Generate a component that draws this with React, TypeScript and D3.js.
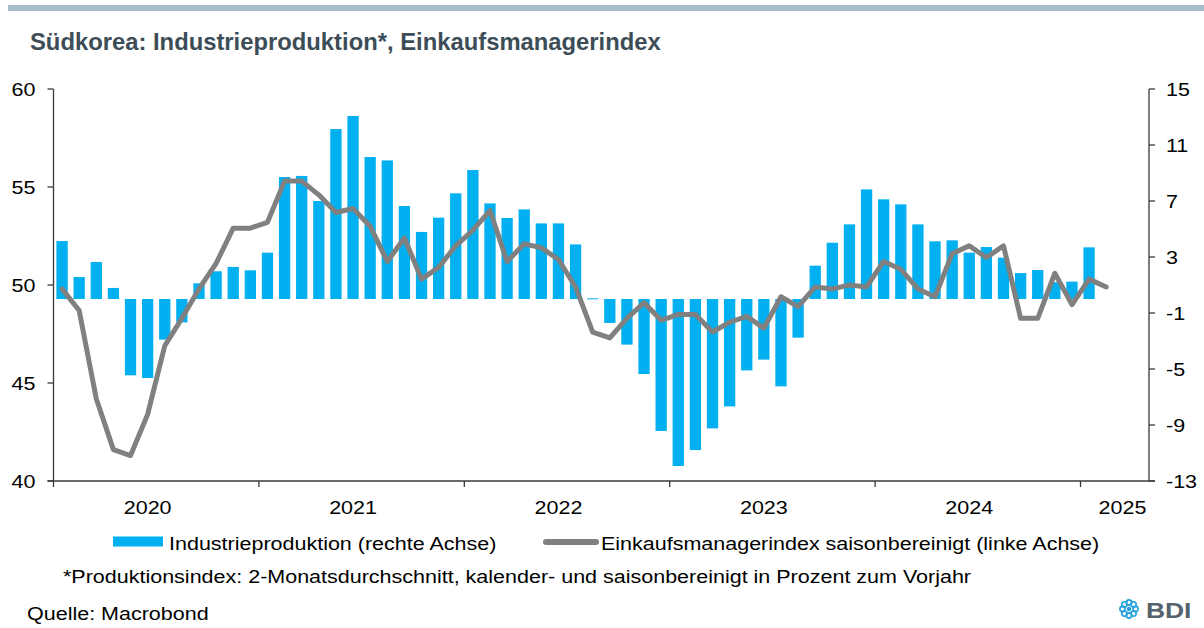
import React from "react";
import * as d3 from "d3";

// ---- Data (monthly, starting January 2020) ----
const startYear = 2020;
const monthsInDomain = 64; // Jan 2020 .. Apr 2025

// Industrieproduktion, % yoy (right axis), Jan 2020 .. Jan 2025
const production2020 = [4.14, 1.57, 2.64, 0.79, -5.45, -5.64, -2.9, -1.67, 1.12, 1.98, 2.29, 2.05];
const production2021 = [3.31, 8.71, 8.79, 7.0, 12.14, 13.07, 10.14, 9.9, 6.64, 4.79, 5.81, 7.55];
const production2022 = [9.21, 6.83, 5.79, 6.4, 5.4, 5.4, 3.9, 0.05, -1.71, -3.26, -5.36, -9.43];
const production2023 = [-11.93, -10.79, -9.24, -7.67, -5.1, -4.33, -6.24, -2.76, 2.38, 4.02, 5.33, 7.83];
const production2024 = [7.12, 6.76, 5.33, 4.12, 4.19, 3.31, 3.71, 2.95, 1.85, 2.07, 1.2, 1.24];
const production2025 = [3.69];

// Einkaufsmanagerindex saisonbereinigt (left axis), Jan 2020 .. Feb 2025
const pmi2020 = [49.8, 48.7, 44.2, 41.6, 41.3, 43.4, 46.9, 48.3, 49.8, 51.1, 52.9, 52.9];
const pmi2021 = [53.2, 55.3, 55.3, 54.6, 53.7, 53.9, 53.0, 51.2, 52.4, 50.3, 50.9, 52.0];
const pmi2022 = [52.8, 53.8, 51.2, 52.1, 51.9, 51.3, 49.9, 47.6, 47.3, 48.3, 49.1, 48.2];
const pmi2023 = [48.5, 48.5, 47.6, 48.1, 48.4, 47.8, 49.4, 48.9, 49.9, 49.8, 50.0, 49.9];
const pmi2024 = [51.2, 50.8, 49.8, 49.4, 51.6, 52.0, 51.4, 52.0, 48.3, 48.3, 50.6, 49.0];
const pmi2025 = [50.3, 49.9];

const production = [
  ...production2020, ...production2021, ...production2022,
  ...production2023, ...production2024, ...production2025,
];
const pmi = [...pmi2020, ...pmi2021, ...pmi2022, ...pmi2023, ...pmi2024, ...pmi2025];

const yearLabels = ["2020", "2021", "2022", "2023", "2024", "2025"];
const leftTicks = [40, 45, 50, 55, 60];
const rightTicks = [-13, -9, -5, -1, 3, 7, 11, 15];

const title = "Südkorea: Industrieproduktion*, Einkaufsmanagerindex";
const legendBars = "Industrieproduktion (rechte Achse)";
const legendLine = "Einkaufsmanagerindex saisonbereinigt (linke Achse)";
const footnote = "*Produktionsindex: 2-Monatsdurchschnitt, kalender- und saisonbereinigt in Prozent zum Vorjahr";
const source = "Quelle: Macrobond";

// ---- Styles ----
const FONT = "'Liberation Sans', Arial, Helvetica, sans-serif";
const SX = 1.15;
const BAR = "#00B0F0";
const LINE = "#808080";
const AXIS = "#3a3a3a";

function T(props: {
  x: number; y: number; anchor?: string; size?: number; weight?: string | number;
  fill?: string; sx?: number; children: React.ReactNode;
}) {
  const { x, y, anchor = "start", size = 18.7, weight = "normal", fill = "#000", sx = SX, children } = props;
  return (
    <text
      transform={`translate(${x},${y}) scale(${sx},1)`}
      textAnchor={anchor}
      fontSize={size}
      fontWeight={weight}
      fill={fill}
      fontFamily={FONT}
    >
      {children}
    </text>
  );
}

export default function App() {
  const W = 1204, H = 628;
  const left = 53.5, right = 1149, top = 89, bottom = 481;

  const x = d3.scaleLinear().domain([0, monthsInDomain]).range([left, right]);
  const yL = d3.scaleLinear().domain([40, 60]).range([bottom, top]);
  const yR = d3.scaleLinear().domain([-13, 15]).range([bottom, top]);

  const step = x(1) - x(0);
  const barW = step * 0.66;

  const linePath = d3
    .line<number>()
    .x((_, i) => x(i + 0.5))
    .y((d) => yL(d))(pmi) as string;

  const yearStarts = yearLabels.map((_, i) => i * 12);

  return (
    <svg width={W} height={H} style={{ display: "block", position: "absolute", left: 0, top: 0 }}>
      <rect x={0} y={0} width={W} height={H} fill="#fff" />
      {/* top band */}
      <rect x={8} y={5} width={W - 8} height={6} fill="#abbdc8" />
      {/* title */}
      <T x={30} y={50} size={23.8} weight="bold" fill="#3d4d58" sx={1}>{title}</T>

      {/* bars */}
      <g>
        {production.map((v, i) => {
          const y0 = yR(0);
          const y1 = yR(v);
          return (
            <rect
              key={i}
              x={x(i + 0.5) - barW / 2}
              y={Math.min(y0, y1)}
              width={barW}
              height={Math.max(1, Math.abs(y1 - y0))}
              fill={BAR}
            />
          );
        })}
      </g>

      {/* line */}
      <path d={linePath} fill="none" stroke={LINE} strokeWidth={5} strokeLinejoin="round" strokeLinecap="round" />

      {/* axes */}
      <g stroke={AXIS} strokeWidth={1.3} fill="none">
        <line x1={left} y1={top} x2={left} y2={bottom} />
        <line x1={right} y1={top} x2={right} y2={bottom} />
        <line x1={left - 6} y1={bottom} x2={right + 6} y2={bottom} />
        {leftTicks.map((t) => (
          <line key={"lt" + t} x1={left - 6} x2={left} y1={yL(t)} y2={yL(t)} />
        ))}
        {rightTicks.map((t) => (
          <line key={"rt" + t} x1={right} x2={right + 6} y1={yR(t)} y2={yR(t)} />
        ))}
        {yearStarts.map((m) => (
          <line key={"xt" + m} x1={x(m)} x2={x(m)} y1={bottom} y2={bottom + 6} />
        ))}
      </g>

      {leftTicks.map((t) => (
        <T key={"ll" + t} x={35.5} y={yL(t) + 6.7} anchor="end">{String(t)}</T>
      ))}
      {rightTicks.map((t) => (
        <T key={"rl" + t} x={1166} y={yR(t) + 6.7}>{String(t)}</T>
      ))}
      {yearLabels.map((lab, i) => {
        const startM = yearStarts[i];
        const full = startM + 12 <= monthsInDomain;
        const pos = full ? startM + 5.5 : startM + 2.45;
        return (
          <T key={lab} x={x(pos)} y={514} anchor="middle">{lab}</T>
        );
      })}

      {/* legend */}
      <rect x={113} y={536.5} width={50} height={10} fill={BAR} />
      <T x={169} y={550}>{legendBars}</T>
      <line x1={546} y1={542} x2={596} y2={542} stroke={LINE} strokeWidth={6} strokeLinecap="round" />
      <T x={601} y={550}>{legendLine}</T>

      {/* footnote & source */}
      <T x={63} y={583}>{footnote}</T>
      <T x={27} y={620}>{source}</T>

      {/* BDI logo */}
      <g transform="translate(1129,609)">
        {d3.range(8).map((k) => {
          const a = (k / 8) * Math.PI * 2;
          return (
            <circle key={k} cx={Math.cos(a) * 6.5} cy={Math.sin(a) * 6.5} r={2.6} fill="none" stroke="#1f9fdc" strokeWidth={1.6} />
          );
        })}
        <circle cx={0} cy={0} r={2.2} fill="#1f9fdc" />
      </g>
      <T x={1146} y={618} size={22} weight="bold" fill="#56626b" sx={1.2}>BDI</T>
    </svg>
  );
}
